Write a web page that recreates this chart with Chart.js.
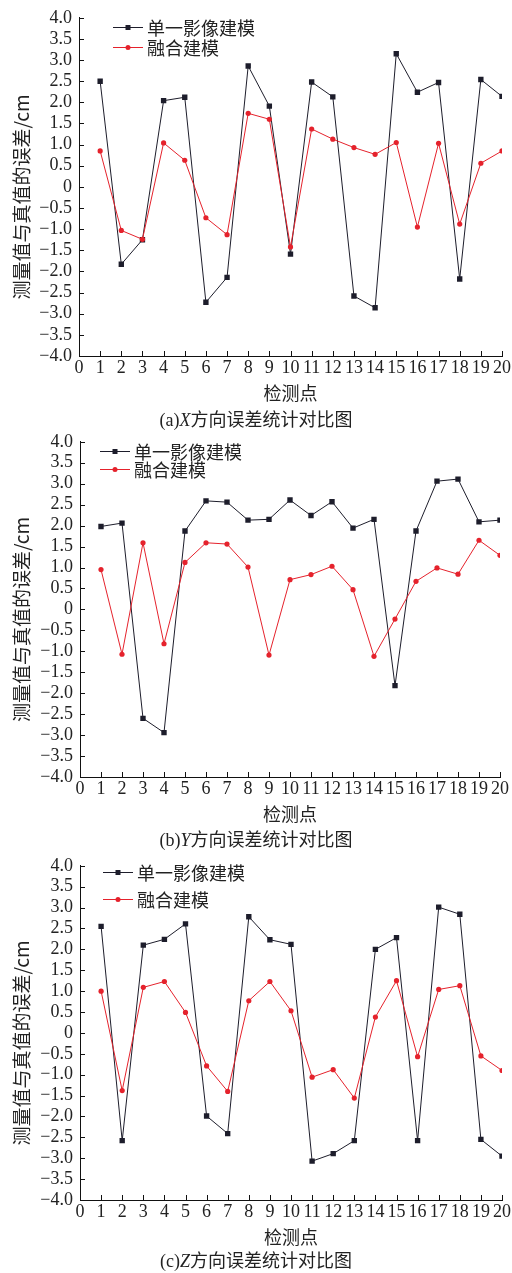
<!DOCTYPE html>
<html>
<head>
<meta charset="utf-8">
<script src="https://cdn.jsdelivr.net/npm/chart.js@4/dist/chart.umd.min.js"></script>
<style>
  html, body { margin: 0; padding: 0; background: #fff; }
  #wrap { position: relative; width: 512px; height: 1273px; overflow: hidden; }
  canvas { position: absolute; left: 0; display: block; }
  .cap {
    position: absolute; left: 0; width: 512px; text-align: center;
    font-size: 18px; line-height: 22px; color: #222;
    font-family: "Noto Sans CJK SC", sans-serif; white-space: nowrap;
  }
  .cap .lat { font-family: "Liberation Serif", serif; }
</style>
</head>
<body>
<div id="wrap">
  <canvas id="cx" width="512" height="424" style="top:0px"></canvas>
  <div class="cap" style="top:407px"><span class="lat">(a)<i>X</i></span>方向误差统计对比图</div>
  <canvas id="cy" width="512" height="424" style="top:424px"></canvas>
  <div class="cap" style="top:827px"><span class="lat">(b)<i>Y</i></span>方向误差统计对比图</div>
  <canvas id="cz" width="512" height="425" style="top:848px"></canvas>
  <div class="cap" style="top:1248px"><span class="lat">(c)<i>Z</i></span>方向误差统计对比图</div>
</div>
<script>
// Checkpoint numbers
const points = [1, 2, 3, 4, 5, 6, 7, 8, 9, 10, 11, 12, 13, 14, 15, 16, 17, 18, 19, 20];

// Series names
const seriesNames = ['单一影像建模', '融合建模'];

// X direction errors (cm)
const xSingle = [2.50, -1.83, -1.25, 2.04, 2.12, -2.73, -2.14, 2.86, 1.91, -1.59,
                 2.48, 2.13, -2.58, -2.86, 3.15, 2.24, 2.47, -2.18, 2.54, 2.14];
const xFusion = [0.85, -1.03, -1.24, 1.04, 0.63, -0.73, -1.13, 1.74, 1.60, -1.42,
                 1.37, 1.13, 0.93, 0.77, 1.05, -0.95, 1.03, -0.88, 0.56, 0.85];

// Y direction errors (cm)
const ySingle = [1.98, 2.06, -2.60, -2.94, 1.87, 2.59, 2.56, 2.13, 2.15, 2.61,
                 2.24, 2.57, 1.94, 2.15, -1.82, 1.87, 3.06, 3.11, 2.09, 2.13];
const yFusion = [0.95, -1.07, 1.59, -0.82, 1.12, 1.59, 1.56, 1.01, -1.09, 0.71,
                 0.83, 1.03, 0.47, -1.12, -0.23, 0.67, 0.99, 0.84, 1.65, 1.29];

// Z direction errors (cm)
const zSingle = [2.55, -2.58, 2.10, 2.24, 2.61, -1.99, -2.41, 2.78, 2.23, 2.12,
                 -3.07, -2.89, -2.58, 2.00, 2.28, -2.58, 3.01, 2.84, -2.55, -2.95];
const zFusion = [1.00, -1.38, 1.09, 1.23, 0.49, -0.79, -1.40, 0.77, 1.23, 0.53,
                 -1.06, -0.88, -1.56, 0.38, 1.25, -0.57, 1.04, 1.13, -0.55, -0.90];

// Axis ticks
const xTickValues = [0, 1, 2, 3, 4, 5, 6, 7, 8, 9, 10, 11, 12, 13, 14, 15, 16, 17, 18, 19, 20];
const xTickLabels = ['0', '1', '2', '3', '4', '5', '6', '7', '8', '9', '10',
                     '11', '12', '13', '14', '15', '16', '17', '18', '19', '20'];
const yTickValues = [-4, -3.5, -3, -2.5, -2, -1.5, -1, -0.5, 0, 0.5, 1, 1.5, 2, 2.5, 3, 3.5, 4];
const yTickLabels = ['\u22124.0', '\u22123.5', '\u22123.0', '\u22122.5', '\u22122.0', '\u22121.5',
                     '\u22121.0', '\u22120.5', '0', '0.5', '1.0', '1.5', '2.0', '2.5', '3.0', '3.5', '4.0'];

const xTitle = '检测点';
const yTitle = '测量值与真值的误差/cm';

const DARK = '#1d1d2b';
const RED = '#e5222c';
const TEXT = '#222';
const SERIF = '"Liberation Serif", "Times New Roman", serif';
const CJK = '"Noto Sans CJK SC", sans-serif';

// Inward tick marks on both axes
const innerTicks = {
  id: 'innerTicks',
  afterDraw(chart) {
    const { ctx, chartArea } = chart;
    const xs = chart.scales.x, ys = chart.scales.y;
    ctx.save();
    ctx.strokeStyle = '#111';
    ctx.lineWidth = 1;
    ctx.beginPath();
    xs.ticks.forEach(t => {
      const px = Math.round(xs.getPixelForValue(t.value)) + 0.5;
      ctx.moveTo(px, chartArea.bottom);
      ctx.lineTo(px, chartArea.bottom - 5);
    });
    ys.ticks.forEach(t => {
      const py = Math.round(ys.getPixelForValue(t.value)) + 0.5;
      ctx.moveTo(chartArea.left, py);
      ctx.lineTo(chartArea.left + 5, py);
    });
    ctx.stroke();
    ctx.restore();
  }
};

// Rotated y-axis title, set a little below the plot's middle
const yAxisTitle = {
  id: 'yAxisTitle',
  afterDraw(chart, args, opts) {
    const { ctx, chartArea } = chart;
    const cy = (chartArea.top + chartArea.bottom) / 2 + opts.shift;
    ctx.save();
    ctx.translate(opts.x, cy);
    ctx.rotate(-Math.PI / 2);
    ctx.font = '19px ' + CJK;
    ctx.fillStyle = TEXT;
    ctx.textAlign = 'center';
    ctx.textBaseline = 'middle';
    ctx.fillText(opts.text, 0, 0);
    ctx.restore();
  }
};

// Legend: short line with the series marker, followed by the name
const lineLegend = {
  id: 'lineLegend',
  afterDraw(chart, args, opts) {
    const { ctx } = chart;
    ctx.save();
    ctx.font = '18px ' + CJK;
    ctx.textBaseline = 'middle';
    chart.data.datasets.forEach((ds, i) => {
      const y = opts.rows[i];
      const x0 = opts.x, x1 = opts.x + 30;
      ctx.strokeStyle = ds.borderColor;
      ctx.lineWidth = 1;
      ctx.beginPath();
      ctx.moveTo(x0, y + 0.5);
      ctx.lineTo(x1, y + 0.5);
      ctx.stroke();
      ctx.fillStyle = ds.borderColor;
      const cx = (x0 + x1) / 2;
      if (ds.pointStyle === 'rect') {
        ctx.fillRect(cx - 2.5, y - 2, 5, 5);
      } else {
        ctx.beginPath();
        ctx.arc(cx, y + 0.5, 2.5, 0, Math.PI * 2);
        ctx.fill();
      }
      ctx.fillStyle = TEXT;
      ctx.fillText(ds.label, x1 + 4, y + 1);
    });
    ctx.restore();
  }
};

function drawPanel(id, single, fusion, g) {
  const canvas = document.getElementById(id);
  const H = canvas.height;
  return new Chart(canvas, {
    type: 'line',
    data: {
      datasets: [
        {
          label: seriesNames[0],
          data: points.map((p, i) => ({ x: p, y: single[i] })),
          borderColor: DARK, backgroundColor: DARK,
          borderWidth: 1, pointStyle: 'rect', pointRadius: 3.8,
          pointBorderWidth: 0, tension: 0, order: 1
        },
        {
          label: seriesNames[1],
          data: points.map((p, i) => ({ x: p, y: fusion[i] })),
          borderColor: RED, backgroundColor: RED,
          borderWidth: 1, pointStyle: 'circle', pointRadius: 2.6,
          pointBorderWidth: 0, tension: 0, order: 0
        }
      ]
    },
    options: {
      responsive: false,
      animation: false,
      devicePixelRatio: 1,
      layout: { padding: { top: g.top, right: g.right, left: 0, bottom: 0 } },
      plugins: {
        legend: { display: false },
        tooltip: { enabled: false },
        lineLegend: { x: g.legendX, rows: g.legendRows },
        yAxisTitle: { text: yTitle, x: 22, shift: 10 }
      },
      scales: {
        x: {
          type: 'linear', min: 0, max: 20,
          afterBuildTicks: s => { s.ticks = xTickValues.map(v => ({ value: v })); },
          afterFit: s => { s.height = H - g.bottom; },
          ticks: {
            autoSkip: false, maxRotation: 0, padding: 1,
            color: TEXT, font: { family: SERIF, size: 18 },
            callback: v => xTickLabels[xTickValues.indexOf(v)]
          },
          grid: { display: false, drawTicks: false },
          border: { display: true, color: '#111', width: 1 },
          title: {
            display: true, text: xTitle, color: TEXT,
            font: { family: CJK, size: 18 },
            padding: { top: 0, bottom: g.xTitlePad }
          }
        },
        y: {
          type: 'linear', min: -4, max: 4,
          afterBuildTicks: s => { s.ticks = yTickValues.map(v => ({ value: v })); },
          afterFit: s => { s.width = g.left; },
          ticks: {
            autoSkip: false, padding: 7,
            color: TEXT, font: { family: SERIF, size: 18 },
            callback: v => yTickLabels[yTickValues.indexOf(v)]
          },
          grid: { display: false, drawTicks: false },
          border: { display: true, color: '#111', width: 1 },
          title: { display: false }
        }
      }
    },
    plugins: [innerTicks, yAxisTitle, lineLegend]
  });
}

drawPanel('cx', xSingle, xFusion, {
  top: 15, bottom: 356, left: 79, right: 10,
  xTitlePad: 20, legendX: 113, legendRows: [27, 47]
});
drawPanel('cy', ySingle, yFusion, {
  top: 15, bottom: 353, left: 80, right: 12,
  xTitlePad: 23, legendX: 100, legendRows: [27, 45]
});
drawPanel('cz', zSingle, zFusion, {
  top: 13, bottom: 352, left: 80, right: 8,
  xTitlePad: 25, legendX: 103, legendRows: [24, 51]
});
</script>
</body>
</html>
